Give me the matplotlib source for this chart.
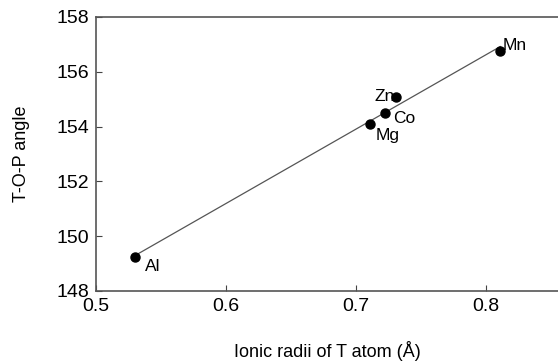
import numpy as np
import matplotlib
matplotlib.use("Agg")
import matplotlib.pyplot as plt

plt.rcParams['font.family'] = ['Liberation Sans', 'DejaVu Sans']

elements = ["Al", "Mg", "Co", "Zn", "Mn"]
radii = [0.530, 0.711, 0.722, 0.731, 0.811]
angles = [149.24, 154.09, 154.5, 155.08, 156.76]

fig = plt.figure(figsize=(5.58, 3.61), dpi=100)
ax = fig.add_axes([0.172, 0.194, 0.828, 0.759])

# linear fit through the points
k, b = np.polyfit(radii, angles, 1)
xs = np.array([min(radii), max(radii)])
ax.plot(xs, k * xs + b, color="#555555", lw=0.9)

ax.plot(radii, angles, "o", color="black", ms=6.5)

# label offsets in points
offsets = {"Al": (7, -7, "left"), "Mg": (4, -8, "left"), "Co": (6, -4, "left"),
           "Zn": (-1, 0, "right"), "Mn": (2, 4, "left")}
for el, x, y in zip(elements, radii, angles):
    dx, dy, ha = offsets[el]
    ax.annotate(el, (x, y), xytext=(dx, dy), textcoords="offset points",
                ha=ha, va="center", fontsize=12.5)

ax.set_xlim(0.5, 0.8554)
ax.set_ylim(148, 158)
ax.set_xticks([0.5, 0.6, 0.7, 0.8])
ax.set_xticklabels(["0.5", "0.6", "0.7", "0.8"])
ax.set_yticks([148, 150, 152, 154, 156, 158])
ax.tick_params(direction="in", length=4, labelsize=14, color="#444444", pad=5)
ax.spines["right"].set_visible(False)
for s in ["left", "top", "bottom"]:
    ax.spines[s].set_color("#555555")
    ax.spines[s].set_linewidth(1.2)

ax.set_xlabel("Ionic radii of T atom (Å)", fontsize=13, labelpad=19)
ax.set_ylabel("T-O-P angle", fontsize=13, labelpad=19)

fig.savefig("out.png", dpi=100)
